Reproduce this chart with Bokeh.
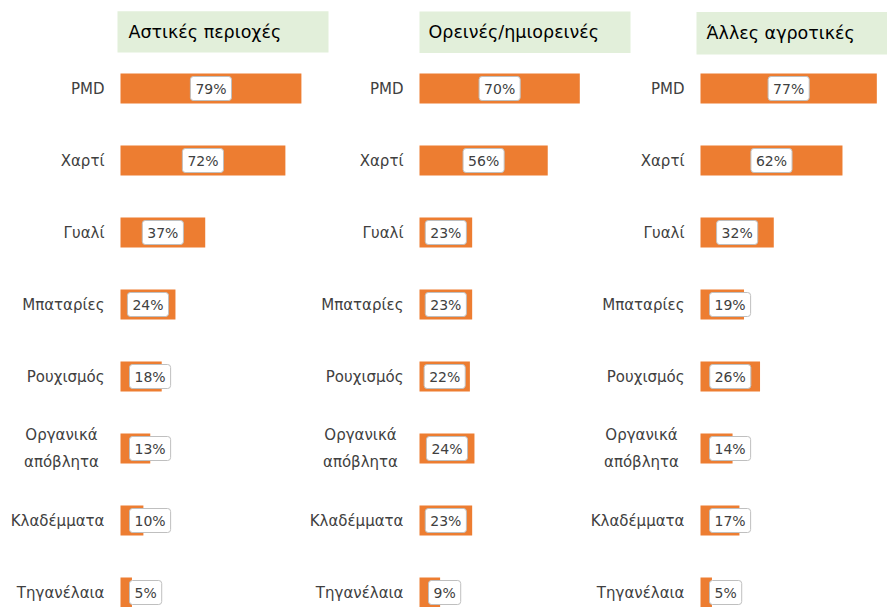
import numpy as np
from bokeh.plotting import figure
from bokeh.models import Range1d, ColumnDataSource
from bokeh.core.properties import value
from bokeh.embed import file_html
from bokeh.resources import INLINE

# ---- data ----
categories = ["PMD", "Χαρτί", "Γυαλί", "Μπαταρίες", "Ρουχισμός",
              "Οργανικά\nαπόβλητα", "Κλαδέμματα", "Τηγανέλαια"]
panel_titles = ["Αστικές περιοχές", "Ορεινές/ημιορεινές", "Άλλες αγροτικές"]
urban = [79, 72, 37, 24, 18, 13, 10, 5]
mountain = [70, 56, 23, 23, 22, 24, 23, 9]
rural = [77, 62, 32, 19, 26, 14, 17, 5]
series = [urban, mountain, rural]

# ---- layout constants (pixels within the plot frame) ----
W, H = 887, 607
ROW0 = 88.0          # centre of first row from top
ROW_STEP = 72.0      # pixel distance between rows
PX_PER_PCT = 2.29
BAR_X0 = [120, 419, 700]
HDR = [(117, 328, 10.7, 52.0, 11), (419, 630, 11.0, 52.5, 9), (696, 910, 11.5, 54.0, 10)]
BAR_H_PX = 30
FONT = "DejaVu Sans"

p = figure(width=W, height=H, output_backend="svg", toolbar_location=None,
           x_range=Range1d(0, W), y_range=Range1d(H, 0),
           x_axis_location=None, y_axis_location=None, min_border=0,
           outline_line_color=None, background_fill_color="white",
           border_fill_color="white")
p.grid.visible = False

p.extra_y_ranges = {"rows": Range1d(start=(H - ROW0) / ROW_STEP, end=-ROW0 / ROW_STEP)}
p.extra_x_ranges = {}
for i, x0 in enumerate(BAR_X0):
    p.extra_x_ranges[f"panel{i}"] = Range1d(start=-x0 / PX_PER_PCT, end=(W - x0) / PX_PER_PCT)

rows = np.arange(len(categories))
bar_h = BAR_H_PX / ROW_STEP

for i, vals in enumerate(series):
    rn = f"panel{i}"
    v = np.array(vals, dtype=float)
    small = v * PX_PER_PCT / 2 < 25
    src = ColumnDataSource(dict(
        y=rows, v=v, zero=np.zeros_like(v),
        lx=np.where(small, 0.0, v / 2),
        la=np.where(small, "left", "center").tolist(),
        lo=np.where(small, 9.0, 0.0),
        lab=[f"{int(x)}%" for x in vals],
        cat=categories,
        ca=["center" if "\n" in c else "right" for c in categories],
        co=[-59.0 if "\n" in c else -16.0 for c in categories],
    ))
    # header
    l, r, t, b, pad = HDR[i]
    p.quad(left=[l], right=[r], top=[t], bottom=[b], fill_color="#e2efda", line_color=None)
    p.text(x=[l + pad], y=[(t + b) / 2], text=[panel_titles[i]], text_font=value(FONT),
           text_font_size="17.5px", text_color="#000000", text_baseline="middle", text_align="left")
    # bars
    p.hbar(y="y", left="zero", right="v", height=bar_h, source=src,
           x_range_name=rn, y_range_name="rows", fill_color="#ed7d31", line_color=None)
    # value labels
    p.text(x="lx", y="y", text="lab", source=src, x_range_name=rn, y_range_name="rows",
           text_align="la", x_offset="lo", text_baseline="middle",
           text_font=value(FONT), text_font_size="14px", text_color="#404040",
           background_fill_color="white", border_line_color="#bfbfbf",
           padding=dict(left=5, right=5, top=4, bottom=4), border_radius=3)
    # category labels
    p.text(x="zero", y="y", text="cat", source=src, x_range_name=rn, y_range_name="rows",
           text_align="ca", x_offset="co", text_baseline="middle",
           text_font=value(FONT), text_font_size="15px", text_color="#404040",
           text_line_height=1.45)

open("out.html", "w").write(file_html(p, INLINE))
